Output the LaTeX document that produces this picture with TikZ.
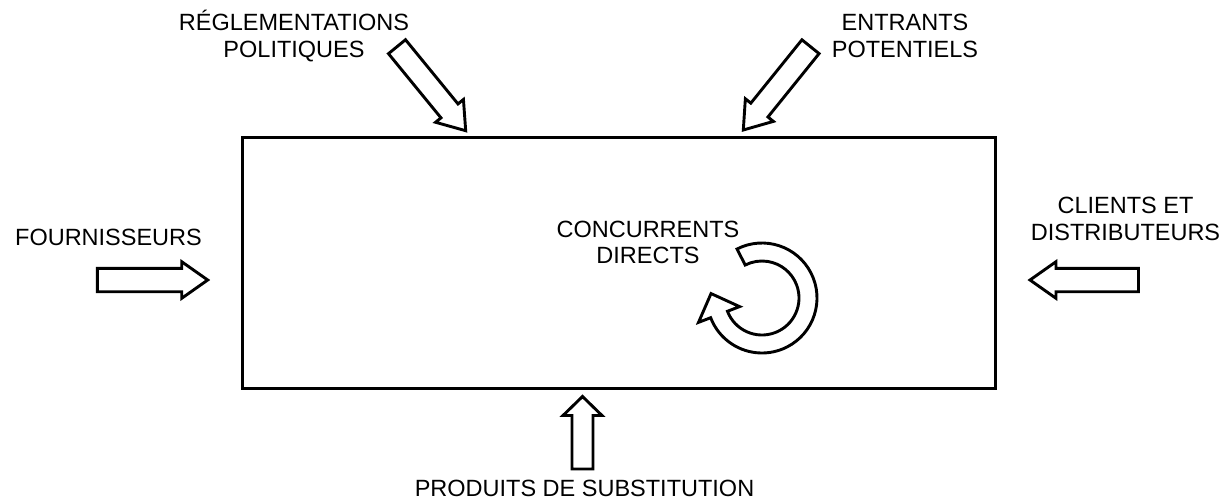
\documentclass[tikz,border=0pt]{standalone}
\usepackage{fontspec}
\setmainfont{Liberation Sans}
\usetikzlibrary{calc}
\tikzset{
  outline/.style={draw=black, line width=2.9pt, line join=miter, fill=white},
  boxline/.style={draw=black, line width=3pt},
  lbl/.style={anchor=base, inner sep=0pt, text=black, font=\fontsize{23.5}{27}\selectfont}
}
% #1 tail, #2 tip, #3 head length, #4 head half width, #5 shaft half width
\newcommand\blockarr[5]{%
  \coordinate (ba-b) at ($(#2)!#3!(#1)$);
  \draw[outline] (#2) -- ($(ba-b)!#4!90:(#2)$) -- ($(ba-b)!#5!90:(#2)$)
    -- ($(#1)!#5!90:(#2)$) -- ($(#1)!#5!-90:(#2)$)
    -- ($(ba-b)!#5!-90:(#2)$) -- ($(ba-b)!#4!-90:(#2)$) -- cycle;
}
\begin{document}
\begin{tikzpicture}[x=1pt,y=-1pt]
\useasboundingbox (0,0) rectangle (1224,499);
% main box
\node[boxline, rectangle, inner sep=0pt, minimum width=753pt, minimum height=251pt] (market) at (618.5,262.5) {};
% labels
\node[lbl] (reg1) at (294,30) {RÉGLEMENTATIONS};
\node[lbl] (reg2) at (294,57) {POLITIQUES};
\node[lbl] (ent1) at (905,30) {ENTRANTS};
\node[lbl] (ent2) at (905,57) {POTENTIELS};
\node[lbl] (four) at (108.5,245) {FOURNISSEURS};
\node[lbl] (cli1) at (1125.5,213.5) {CLIENTS ET};
\node[lbl] (cli2) at (1125.5,240.5) {DISTRIBUTEURS};
\node[lbl] (conc1) at (648,237) {CONCURRENTS};
\node[lbl] (conc2) at (648,263.5) {DIRECTS};
\node[lbl] (prod) at (584.5,496) {PRODUITS DE SUBSTITUTION};
% arrow end points
\coordinate (regtail) at (397,46.7);
\coordinate (regtip) at (465.7,130.7);
\coordinate (enttail) at (810.5,46.7);
\coordinate (enttip) at (743.3,130);
\coordinate (fourtail) at (97.3,280);
\coordinate (fourtip) at (207.7,280);
\coordinate (clitail) at (1138.5,280);
\coordinate (clitip) at (1030,280);
\coordinate (prodtail) at (582.5,469);
\coordinate (prodtip) at (582.5,396.5);
% block arrows
\blockarr{regtail}{regtip}{25.6pt}{18pt}{11pt}
\blockarr{enttail}{enttip}{25.6pt}{18pt}{11pt}
\blockarr{fourtail}{fourtip}{26pt}{18.3pt}{11.7pt}
\blockarr{clitail}{clitip}{26pt}{18.3pt}{11.7pt}
\blockarr{prodtail}{prodtip}{19pt}{19.5pt}{10.5pt}
% circular arrow (competition)
\coordinate (cyc) at (762,298);
\draw[outline] ($(cyc)+(117:55pt)$) arc[start angle=117, end angle=-159, radius=55pt]
  -- ($(cyc)+(-159:68pt)$) -- ($(cyc)+(-50.96pt,4.44pt)$) -- ($(cyc)+(-159:24pt)$)
  -- ($(cyc)+(-159:37pt)$) arc[start angle=-159, end angle=117, radius=37pt] -- cycle;
\end{tikzpicture}
\end{document}
